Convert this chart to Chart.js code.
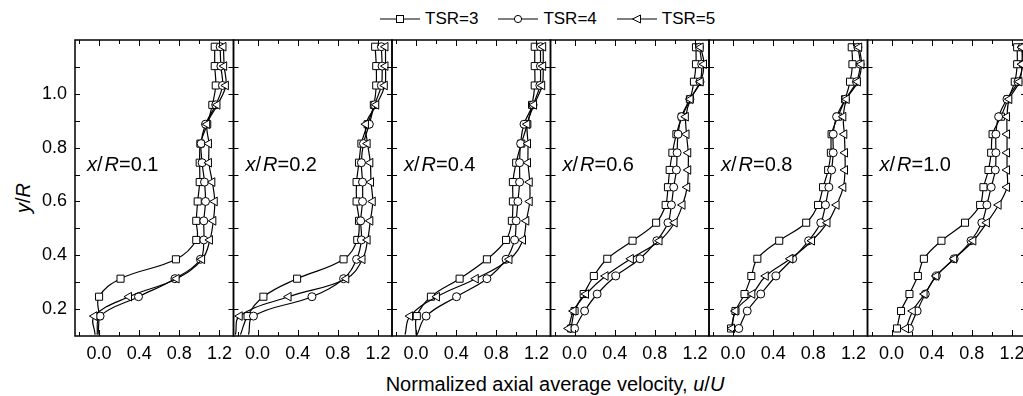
<!DOCTYPE html>
<html>
<head>
<meta charset="utf-8">
<script src="https://cdn.jsdelivr.net/npm/chart.js@4.4.1/dist/chart.umd.min.js"></script>
<style>
  html, body { margin: 0; padding: 0; background: #fff; }
  #wrap { position: relative; width: 1023px; height: 396px; overflow: hidden;
          font-family: 'Liberation Sans', Arial, sans-serif; color: #000; }
  #wrap canvas { position: absolute; top: 20px; }
  #legend { position: absolute; left: 380px; top: 9px; height: 20px; display: flex; align-items: center; font-size: 17px; }
  #legend .item { display: flex; align-items: center; margin-right: 20px; }
  #legend .item span { margin-left: 5px; }
  #xtitle { position: absolute; left: 355px; width: 400px; top: 374px; text-align: center; font-size: 20px; line-height: 20px; white-space: nowrap; }
  #ytitle { position: absolute; left: -27px; width: 100px; top: 188px; text-align: center; font-size: 20px; line-height: 20px;
            transform: rotate(-90deg); white-space: nowrap; }
</style>
</head>
<body>
<div id="wrap">
  <div id="legend"></div>
  <div id="ytitle"><i>y</i>/<i>R</i></div>
  <div id="xtitle">Normalized axial average velocity, <i>u</i>/<i>U</i></div>
</div>
<script>
// Global defaults
Chart.defaults.font.family = "'Liberation Sans', Arial, sans-serif";
Chart.defaults.color = '#000';

// ---- data ----
// y/R levels: panels x/R=0.1..0.4 (last one is the line tail, no marker)
const yNear = [1.175, 1.103, 1.031, 0.959, 0.887, 0.815, 0.744, 0.672, 0.600, 0.528, 0.457, 0.385, 0.313, 0.246, 0.174, 0.105];
const nearMarks = 15;
// y/R levels: panels x/R=0.6..1.0
const yFar = [1.173, 1.110, 1.045, 0.980, 0.915, 0.850, 0.781, 0.717, 0.653, 0.587, 0.521, 0.454, 0.387, 0.323, 0.256, 0.193, 0.128];
const farMarks = 17;

const panelNames = ['0.1', '0.2', '0.4', '0.6', '0.8', '1.0'];
const seriesNames = ['TSR=3', 'TSR=4', 'TSR=5'];

const p1TSR3 = [1.153, 1.153, 1.163, 1.129, 1.078, 1.010, 1.003, 1.003, 0.983, 0.969, 0.969, 0.766, 0.214, 0.000, 0.000, -0.010];
const p1TSR4 = [1.207, 1.214, 1.230, 1.163, 1.061, 1.017, 1.027, 1.051, 1.061, 1.044, 1.044, 1.010, 0.756, 0.393, 0.010, -0.020];
const p1TSR5 = [1.240, 1.247, 1.264, 1.180, 1.078, 1.095, 1.095, 1.129, 1.153, 1.139, 1.105, 1.027, 0.773, 0.298, -0.047, -0.040];

const p2TSR3 = [1.172, 1.183, 1.183, 1.159, 1.097, 1.035, 1.011, 0.987, 0.987, 1.011, 0.994, 0.857, 0.394, 0.058, -0.100, -0.170];
const p2TSR4 = [1.234, 1.241, 1.234, 1.166, 1.114, 1.056, 1.035, 1.046, 1.046, 1.028, 1.035, 0.987, 0.857, 0.542, -0.041, -0.090];
const p2TSR5 = [1.275, 1.275, 1.268, 1.183, 1.080, 1.097, 1.124, 1.131, 1.148, 1.124, 1.097, 1.046, 0.884, 0.309, -0.178, -0.220];

const p3TSR3 = [1.183, 1.183, 1.183, 1.156, 1.109, 1.049, 0.998, 0.965, 0.965, 0.955, 0.897, 0.706, 0.434, 0.148, 0.007, 0.000];
const p3TSR4 = [1.240, 1.240, 1.234, 1.166, 1.076, 1.042, 1.032, 1.032, 1.015, 0.998, 0.982, 0.897, 0.706, 0.403, 0.100, 0.010];
const p3TSR5 = [1.267, 1.267, 1.257, 1.176, 1.109, 1.116, 1.116, 1.133, 1.133, 1.099, 1.066, 0.931, 0.595, 0.208, -0.060, -0.110];

const p4TSR3 = [1.210, 1.210, 1.190, 1.150, 1.070, 1.015, 0.975, 0.948, 0.931, 0.908, 0.813, 0.578, 0.326, 0.192, 0.091, 0.000, -0.034];
const p4TSR4 = [1.244, 1.267, 1.250, 1.150, 1.066, 1.032, 1.022, 1.015, 0.988, 0.965, 0.931, 0.820, 0.652, 0.410, 0.225, 0.100, 0.000];
const p4TSR5 = [1.257, 1.290, 1.257, 1.156, 1.109, 1.116, 1.133, 1.133, 1.123, 1.076, 0.998, 0.847, 0.561, 0.309, 0.114, -0.010, -0.060];

const p5TSR3 = [1.183, 1.190, 1.166, 1.116, 1.045, 0.982, 0.975, 0.948, 0.897, 0.847, 0.729, 0.460, 0.242, 0.182, 0.114, 0.024, -0.020];
const p5TSR4 = [1.244, 1.267, 1.230, 1.120, 1.032, 0.998, 0.998, 0.982, 0.955, 0.921, 0.874, 0.753, 0.595, 0.427, 0.276, 0.141, 0.057];
const p5TSR5 = [1.257, 1.280, 1.244, 1.133, 1.099, 1.109, 1.116, 1.116, 1.099, 1.032, 0.941, 0.787, 0.571, 0.326, 0.192, 0.024, -0.010];

const p6TSR3 = [1.252, 1.252, 1.228, 1.160, 1.090, 1.007, 0.993, 0.966, 0.916, 0.883, 0.732, 0.497, 0.322, 0.262, 0.178, 0.094, 0.054];
const p6TSR4 = [1.300, 1.310, 1.260, 1.150, 1.067, 1.040, 1.040, 1.034, 0.993, 0.950, 0.900, 0.792, 0.624, 0.446, 0.336, 0.255, 0.178];
const p6TSR5 = [1.300, 1.300, 1.275, 1.174, 1.151, 1.151, 1.151, 1.151, 1.151, 1.067, 0.950, 0.815, 0.624, 0.446, 0.329, 0.211, 0.144];

// axis ticks
const xTicks = [0.0, 0.4, 0.8, 1.2];
const xMinorTicks = [-0.2, 0.0, 0.2, 0.4, 0.6, 0.8, 1.0, 1.2];
const yTicks = [0.2, 0.4, 0.6, 0.8, 1.0];
const yMinorTicks = [0.2, 0.3, 0.4, 0.5, 0.6, 0.7, 0.8, 0.9, 1.0, 1.1];

// ---- layout / style ----
const panelLeft0 = 75, panelW = 158.5;
const xMin = -0.24, xMax = 1.34, yMin = 0.1, yMax = 1.2;

const markers = [
  { style: 'rect', r: 5, rot: 0 },
  { style: 'circle', r: 4, rot: 0 },
  { style: 'triangle', r: 5, rot: -90 }
];

const panels = [
  { y: yNear, marks: nearMarks, series: [p1TSR3, p1TSR4, p1TSR5] },
  { y: yNear, marks: nearMarks, series: [p2TSR3, p2TSR4, p2TSR5] },
  { y: yNear, marks: nearMarks, series: [p3TSR3, p3TSR4, p3TSR5] },
  { y: yFar, marks: farMarks, series: [p4TSR3, p4TSR4, p4TSR5] },
  { y: yFar, marks: farMarks, series: [p5TSR3, p5TSR4, p5TSR5] },
  { y: yFar, marks: farMarks, series: [p6TSR3, p6TSR4, p6TSR5] }
];

// frame with inward ticks + x/R label
const framePlugin = {
  id: 'frame',
  afterDatasetsDraw(chart, args, opts) {
    const { ctx, chartArea: a, scales: { x, y } } = chart;
    ctx.save();
    ctx.strokeStyle = '#000';
    ctx.lineWidth = 1;
    ctx.beginPath();
    xMinorTicks.forEach(v => {
      const px = Math.round(x.getPixelForValue(v)) + 0.5;
      const len = xTicks.includes(v) ? 6 : 4;
      ctx.moveTo(px, a.bottom); ctx.lineTo(px, a.bottom - len);
      ctx.moveTo(px, a.top); ctx.lineTo(px, a.top + len);
    });
    yMinorTicks.forEach(v => {
      const py = Math.round(y.getPixelForValue(v)) + 0.5;
      const len = 5;
      ctx.moveTo(a.left, py); ctx.lineTo(a.left + len, py);
      ctx.moveTo(a.right, py); ctx.lineTo(a.right - len, py);
    });
    ctx.stroke();
    ctx.lineWidth = 1.5;
    ctx.strokeRect(a.left, a.top, a.right - a.left, a.bottom - a.top);

    // panel label  x/R=0.1
    const base = a.top + 131;
    let tx = a.left + 12;
    const parts = [
      ['italic 20px "Liberation Sans", Arial', 'x', 0],
      ['20px "Liberation Sans", Arial', '/', 2],
      ['italic 20px "Liberation Sans", Arial', 'R', 0],
      ['20px "Liberation Sans", Arial', '=' + opts.name, 0]
    ];
    ctx.fillStyle = '#000';
    ctx.textBaseline = 'alphabetic';
    ctx.textAlign = 'left';
    parts.forEach(([f, t, gap]) => {
      ctx.font = f;
      ctx.fillText(t, tx, base);
      tx += ctx.measureText(t).width + gap;
    });
    ctx.restore();
  }
};

const wrap = document.getElementById('wrap');

panels.forEach((p, i) => {
  const left = panelLeft0 + i * panelW;
  const padL = i === 0 ? 75 : 30;
  const cLeft = Math.floor(left) - padL;
  const frac = left - Math.floor(left);
  const cW = padL + 190;
  const cH = 376;
  const canvas = document.createElement('canvas');
  canvas.width = cW; canvas.height = cH;
  canvas.style.left = cLeft + 'px';
  canvas.style.width = cW + 'px';
  canvas.style.height = cH + 'px';
  wrap.appendChild(canvas);

  const datasets = p.series.map((xs, j) => ({
    label: seriesNames[j],
    data: p.y.map((yv, k) => ({ x: xs[k], y: yv })),
    borderColor: '#000',
    borderWidth: 1.2,
    tension: 0.4,
    fill: false,
    pointStyle: markers[j].style,
    pointRadius: ctx => ctx.dataIndex < p.marks ? markers[j].r : 0,
    pointRotation: markers[j].rot,
    pointBackgroundColor: '#fff',
    pointBorderColor: '#000',
    pointBorderWidth: 1,
    order: 2 - j
  }));

  const yScale = {
    type: 'linear', min: yMin, max: yMax,
    display: i === 0,
    grid: { display: false, drawTicks: false },
    border: { display: false },
    afterBuildTicks: s => { s.ticks = yTicks.map(v => ({ value: v })); },
    ticks: { font: { size: 18 }, padding: 8, callback: v => v.toFixed(1) }
  };
  if (i === 0) yScale.afterFit = s => { s.width = 75; };

  new Chart(canvas.getContext('2d'), {
    type: 'line',
    data: { datasets },
    options: {
      responsive: false,
      animation: false,
      devicePixelRatio: 1,
      events: [],
      layout: { padding: { left: i === 0 ? 0 : padL + frac, right: cW - (padL + frac + panelW), top: 20, bottom: 0 } },
      plugins: { legend: { display: false }, tooltip: { enabled: false }, frame: { name: panelNames[i] } },
      scales: {
        x: {
          type: 'linear', min: xMin, max: xMax,
          grid: { display: false, drawTicks: false },
          border: { display: false },
          afterBuildTicks: s => { s.ticks = xTicks.map(v => ({ value: v })); },
          afterFit: s => { s.height = 60; },
          ticks: { font: { size: 18 }, padding: 7, maxRotation: 0, autoSkip: false,
                   callback: v => v.toFixed(1) }
        },
        y: yScale
      }
    },
    plugins: [framePlugin]
  });
});

// legend
const legend = document.getElementById('legend');
const svgMark = [
  '<rect x="16.5" y="3.5" width="7" height="7" fill="#fff" stroke="#000"/>',
  '<circle cx="20" cy="7" r="3.6" fill="#fff" stroke="#000"/>',
  '<polygon points="15.5,7 23.5,3 23.5,11" fill="#fff" stroke="#000"/>'
];
seriesNames.forEach((n, j) => {
  const it = document.createElement('div');
  it.className = 'item';
  it.innerHTML = '<svg width="40" height="14"><line x1="0" y1="7" x2="40" y2="7" stroke="#000" stroke-width="1.2"/>' +
    svgMark[j] + '</svg><span>' + n + '</span>';
  legend.appendChild(it);
});
</script>
</body>
</html>
